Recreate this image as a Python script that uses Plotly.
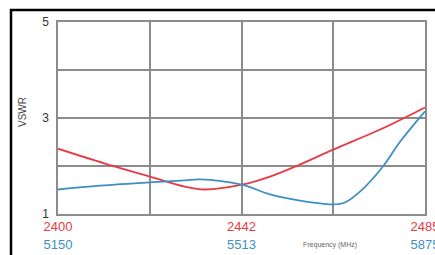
import plotly.graph_objects as go

# Red series: 2.4 GHz band
red_freq = [2400, 2410.9, 2421.3, 2429.4, 2434.0, 2442.6, 2449.1, 2456.0, 2463.7, 2474.6, 2485]
red_vswr = [2.36, 2.05, 1.78, 1.57, 1.51, 1.61, 1.78, 2.03, 2.34, 2.76, 3.22]

# Blue series: 5 GHz band
blue_freq = [5150, 5233, 5332, 5401, 5430, 5513, 5569, 5628, 5693, 5717, 5747, 5792, 5826, 5875]
blue_vswr = [1.51, 1.59, 1.66, 1.70, 1.72, 1.61, 1.41, 1.28, 1.20, 1.24, 1.47, 1.99, 2.51, 3.14]

red_ticks = [2400, 2421.25, 2442.5, 2463.75, 2485]
red_ticktext = ["2400", "", "2442", "", "2485"]
blue_ticks = [5150, 5512.5, 5875]
blue_ticktext = ["5150", "5513", "5875"]
y_ticks = [1, 2, 3, 4, 5]
y_ticktext = ["1", "", "3", "", "5"]

RED = "#e83a44"
BLUE = "#3d8fc4"
GRID = "#8c8c8c"

fig = go.Figure()
fig.add_trace(go.Scatter(x=red_freq, y=red_vswr, mode="lines",
                         line=dict(color=RED, width=1.8, shape="spline"),
                         xaxis="x", yaxis="y", showlegend=False))
fig.add_trace(go.Scatter(x=blue_freq, y=blue_vswr, mode="lines",
                         line=dict(color=BLUE, width=1.8, shape="spline"),
                         xaxis="x2", yaxis="y", showlegend=False))

font = "Liberation Sans, Arial, sans-serif"

fig.update_layout(
    width=435, height=255,
    margin=dict(l=58, r=10, t=22, b=41, autoexpand=False),
    paper_bgcolor="white", plot_bgcolor="white",
    font=dict(family=font),
    xaxis=dict(range=[2400, 2485], tickvals=red_ticks, ticktext=red_ticktext,
               tickfont=dict(color=RED, size=13), ticks="", showgrid=True,
               gridcolor=GRID, gridwidth=1.5, showline=True, linecolor=GRID,
               linewidth=1.5, mirror=True, zeroline=False, automargin=False,
               ticklabelstandoff=0, ticklabeloverflow="allow"),
    xaxis2=dict(range=[5150, 5875], tickvals=blue_ticks, ticktext=blue_ticktext,
                overlaying="x", side="bottom", anchor="y",
                tickfont=dict(color=BLUE, size=13), ticks="", showgrid=False,
                showline=False, zeroline=False, automargin=False,
                ticklabelstandoff=21, ticklabeloverflow="allow"),
    yaxis=dict(range=[1, 5], tickvals=y_ticks, ticktext=y_ticktext,
               tickfont=dict(color="#333333", size=12), ticks="", showgrid=True,
               gridcolor=GRID, gridwidth=1.5, showline=True, linecolor=GRID,
               linewidth=1.5, mirror=True, zeroline=False, automargin=False,
               ticklabelstandoff=5),
)

fig.add_annotation(text="VSWR", xref="paper", yref="paper",
                   x=(22 - 58) / 367, y=(214 - 112) / 192, textangle=-90,
                   showarrow=False, font=dict(size=10, color="#444444", family=font),
                   xanchor="center", yanchor="middle")
fig.add_annotation(text="Frequency (MHz)", xref="paper", yref="paper",
                   x=(330 - 58) / 367, y=(214 - 245) / 192,
                   showarrow=False, font=dict(size=7, color="#666666", family=font),
                   xanchor="center", yanchor="middle")

fig.add_shape(type="rect", xref="paper", yref="paper",
              x0=(11 - 58) / 367, x1=(440 - 58) / 367,
              y0=(214 - 262) / 192, y1=(214 - 10) / 192,
              line=dict(color="black", width=2.5), fillcolor="rgba(0,0,0,0)",
              layer="below")

fig.write_html("out.html", config={"displayModeBar": False},
               post_script="document.body.style.margin='0';document.body.style.overflow='hidden';")
